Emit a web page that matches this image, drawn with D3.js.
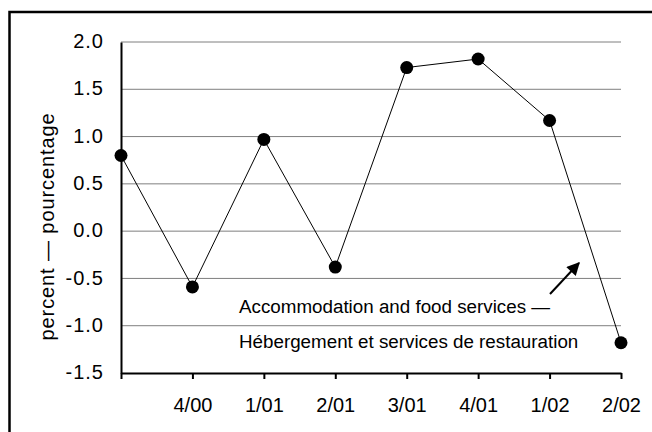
<!DOCTYPE html>
<html>
<head>
<meta charset="utf-8">
<script src="https://cdn.jsdelivr.net/npm/d3@7"></script>
<style>
  html, body { margin: 0; padding: 0; background: #fff; }
  svg { display: block; font-family: Arial, "Liberation Sans", sans-serif; }
</style>
</head>
<body>
<svg id="chart" width="652" height="432"></svg>
<script>
// Quarterly percentage change, accommodation and food services
const quarters = ["3/00", "4/00", "1/01", "2/01", "3/01", "4/01", "1/02", "2/02"];
const quarterLabels = ["", "4/00", "1/01", "2/01", "3/01", "4/01", "1/02", "2/02"];
const values = [0.80, -0.59, 0.97, -0.38, 1.73, 1.82, 1.17, -1.18];
const yTicks = [-1.5, -1.0, -0.5, 0.0, 0.5, 1.0, 1.5, 2.0];

const svg = d3.select("#chart");
const FONT = "Arial, 'Liberation Sans', sans-serif";

// outer frame (only top and left edges fall inside the view)
svg.append("rect")
  .attr("x", 9.5).attr("y", 12)
  .attr("width", 700).attr("height", 500)
  .attr("fill", "none").attr("stroke", "#000").attr("stroke-width", 2.5);

const plotLeft = 121, plotRight = 621, plotTop = 42, plotBottom = 373;

const x = d3.scalePoint().domain(quarters).range([plotLeft, plotRight]);
const y = d3.scaleLinear().domain([-1.5, 2.0]).range([plotBottom, plotTop]);

// horizontal gridlines
svg.append("g")
  .selectAll("line")
  .data(yTicks.filter(t => t > -1.5))
  .join("line")
  .attr("x1", plotLeft).attr("x2", plotRight)
  .attr("y1", d => y(d)).attr("y2", d => y(d))
  .attr("stroke", "#7f7f7f").attr("stroke-width", 1);

// y axis
const yAxis = svg.append("g")
  .attr("transform", `translate(${plotLeft},0)`)
  .call(d3.axisLeft(y).tickValues(yTicks).tickSize(0).tickPadding(17));
yAxis.select(".domain").attr("stroke", "#000").attr("stroke-width", 2);
yAxis.selectAll("text")
  .attr("font-size", 20).attr("letter-spacing", 1).attr("fill", "#000")
  .attr("font-family", FONT).attr("dy", "0.28em")
  .text(d => d.toFixed(1));

// x axis
const xAxis = svg.append("g")
  .attr("transform", `translate(0,${plotBottom})`)
  .call(d3.axisBottom(x).tickFormat((d, i) => quarterLabels[i]).tickSizeInner(6).tickSizeOuter(0).tickPadding(19));
xAxis.select(".domain").attr("stroke", "#000").attr("stroke-width", 2);
xAxis.selectAll(".tick line").attr("stroke", "#000").attr("stroke-width", 2);
xAxis.selectAll("text")
  .attr("font-size", 20).attr("fill", "#000")
  .attr("font-family", FONT);

// y axis title
svg.append("text")
  .attr("transform", `translate(54,${(plotTop + plotBottom) / 2 + 19}) rotate(-90)`)
  .attr("text-anchor", "middle")
  .attr("font-size", 20).attr("letter-spacing", 0.9)
  .attr("font-family", FONT)
  .text("percent — pourcentage");

// series line
const line = d3.line().x((d, i) => x(quarters[i])).y(d => y(d));
svg.append("path")
  .datum(values)
  .attr("d", line)
  .attr("fill", "none").attr("stroke", "#000").attr("stroke-width", 1);

// markers
svg.append("g")
  .selectAll("circle")
  .data(values)
  .join("circle")
  .attr("cx", (d, i) => x(quarters[i]))
  .attr("cy", d => y(d))
  .attr("r", 6.5)
  .attr("fill", "#000");

// annotation with arrow
svg.append("defs").append("marker")
  .attr("id", "arrowhead")
  .attr("viewBox", "0 0 10 10")
  .attr("refX", 9).attr("refY", 5)
  .attr("markerWidth", 7).attr("markerHeight", 6.5)
  .attr("markerUnits", "strokeWidth")
  .attr("orient", "auto")
  .append("path").attr("d", "M0,0 L10,5 L0,10 z").attr("fill", "#000");

svg.append("line")
  .attr("x1", 550).attr("y1", 294)
  .attr("x2", 579).attr("y2", 263)
  .attr("stroke", "#000").attr("stroke-width", 2)
  .attr("marker-end", "url(#arrowhead)");

const note = svg.append("text")
  .attr("font-size", 18.8)
  .attr("font-family", FONT)
  .attr("fill", "#000");
note.append("tspan").attr("x", 239).attr("y", 313).text("Accommodation and food services —");
note.append("tspan").attr("x", 239).attr("y", 348).text("Hébergement et services de restauration");
</script>
</body>
</html>
